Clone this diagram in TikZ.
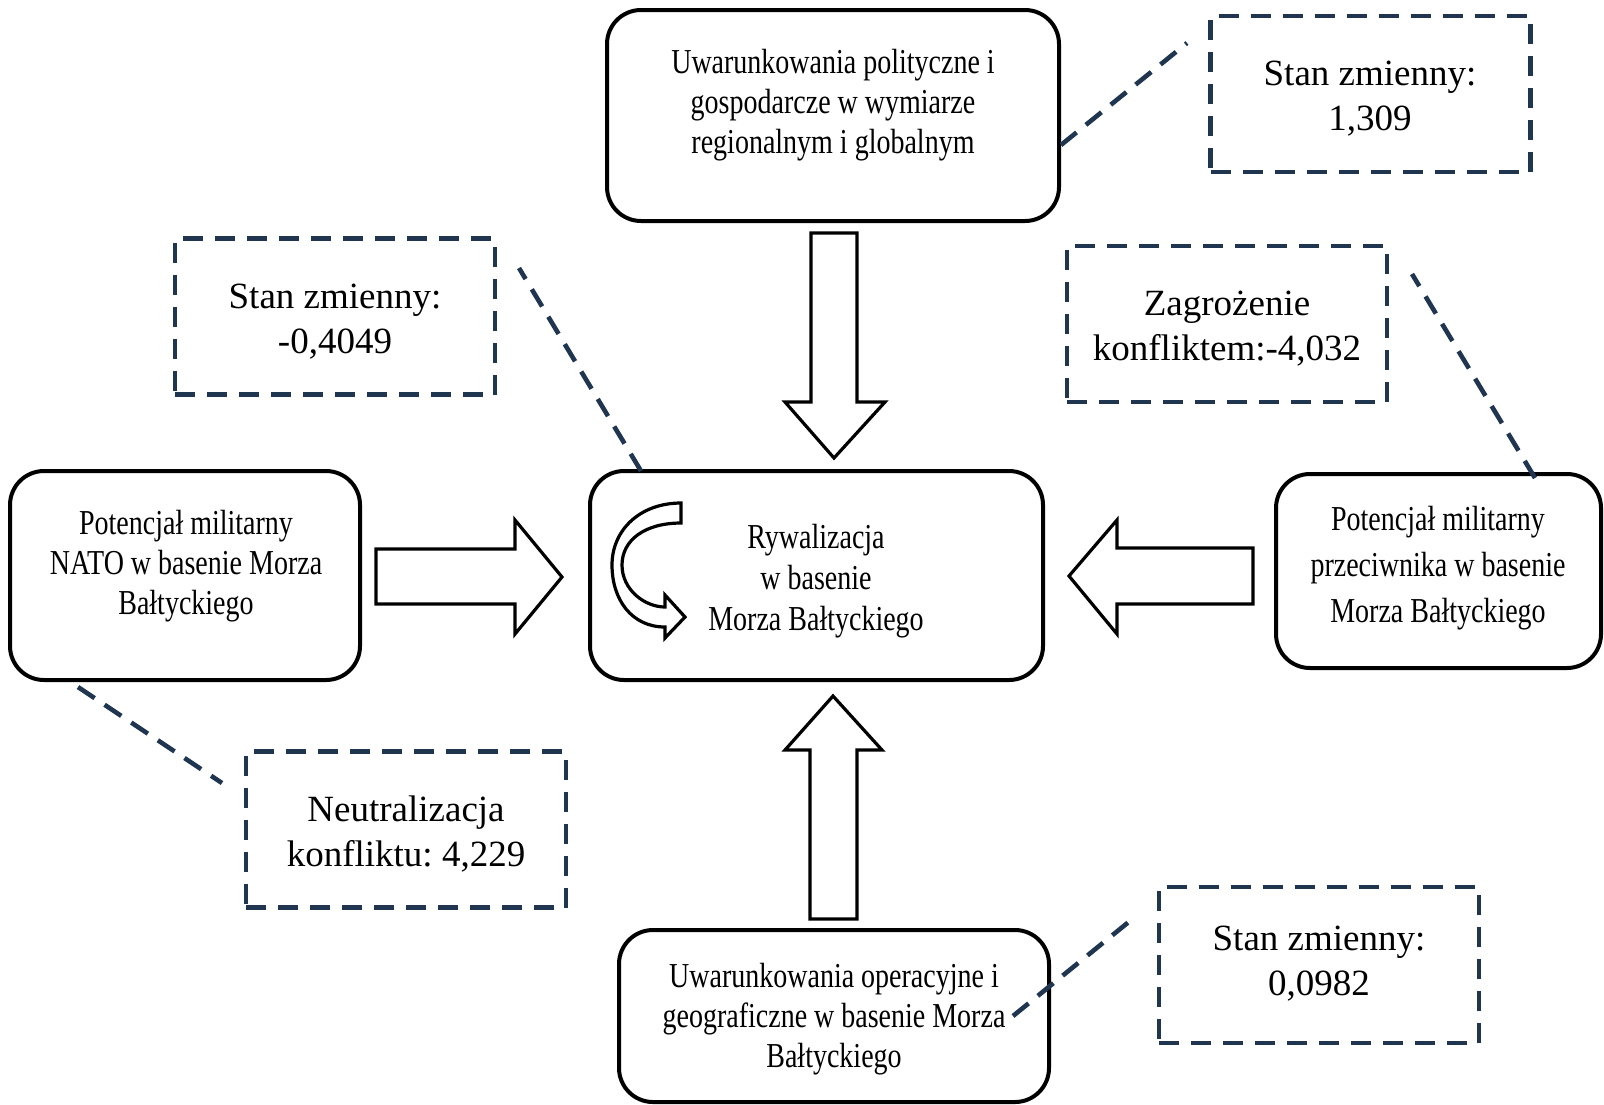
\documentclass[tikz,border=0pt]{standalone}
\usepackage{fontspec}
\setmainfont{Liberation Serif}
\newfontfamily\condfont[FakeStretch=0.8]{Liberation Serif}
\definecolor{dashc}{HTML}{1F3550}
\frenchspacing
\tikzset{
 solidbox/.style={draw=black, line width=2pt, rounded corners=17pt, fill=white, inner sep=0},
 condtxt/.style={align=center, font=\condfont\fontsize{17.5}{20}\selectfont, inner sep=0},
 dbox/.style={draw=dashc, line width=2.3pt, dash pattern=on 10pt off 6pt, minimum width=160pt, minimum height=78pt, inner sep=0},
 dtxt/.style={align=center, font=\fontsize{18.5}{22.5}\selectfont, inner sep=0},
 dline/.style={draw=dashc, line width=2.3pt, dash pattern=on 10pt off 6pt},
 barrow/.style={draw=black, line width=1.6pt, fill=white, line join=miter},
}
\begin{document}
\begin{tikzpicture}[x=0.5pt,y=-0.5pt]
\path[use as bounding box, fill=white] (0,0) rectangle (1604,1104);

% solid boxes
\node[solidbox, minimum width=226pt, minimum height=105.5pt] (top) at (833,115.5) {};
\node[condtxt] (toptxt) at (833,105) {Uwarunkowania polityczne i\\gospodarcze w wymiarze\\regionalnym i globalnym};

\node[solidbox, minimum width=226.5pt, minimum height=104.5pt] (mid) at (816.5,575.5) {};
\node[condtxt, font=\condfont\fontsize{17.5}{20.5}\selectfont] (midtxt) at (816,581) {Rywalizacja\\w basenie\\Morza Bałtyckiego};

\node[solidbox, minimum width=175pt, minimum height=104.5pt] (left) at (185,575.5) {};
\node[condtxt] (lefttxt) at (186,566) {Potencjał militarny\\NATO w basenie Morza\\Bałtyckiego};

\node[solidbox, minimum width=162.5pt, minimum height=97pt] (right) at (1438.5,571) {};
\node[condtxt, font=\condfont\fontsize{17.5}{23}\selectfont] (righttxt) at (1438,568) {Potencjał militarny\\przeciwnika w basenie\\Morza Bałtyckiego};

\node[solidbox, minimum width=215pt, minimum height=86pt] (bot) at (834,1016) {};
\node[condtxt] (bottxt) at (834,1019) {Uwarunkowania operacyjne i\\geograficzne w basenie Morza\\Bałtyckiego};

% dashed boxes
\node[dbox] (d1) at (1370.5,94) {};
\node[dtxt] (d1t) at (1370,99) {Stan zmienny:\\1,309};
\node[dbox] (d2) at (335,316.5) {};
\node[dtxt] (d2t) at (335,322) {Stan zmienny:\\-0,4049};
\node[dbox] (d3) at (1227,324) {};
\node[dtxt] (d3t) at (1227,329) {Zagrożenie\\konfliktem:-4,032};
\node[dbox] (d4) at (406,829.5) {};
\node[dtxt] (d4t) at (406,834) {Neutralizacja\\konfliktu: 4,229};
\node[dbox] (d5) at (1319,965) {};
\node[dtxt] (d5t) at (1319,964) {Stan zmienny:\\0,0982};

% dashed connectors
\coordinate (e1a) at (1061,145); \coordinate (e1b) at (1187,43);
\coordinate (e2a) at (641,471); \coordinate (e2b) at (519,268);
\coordinate (e3a) at (1535,478); \coordinate (e3b) at (1412,274);
\coordinate (e4a) at (78,687); \coordinate (e4b) at (222,783);
\coordinate (e5a) at (1013,1016); \coordinate (e5b) at (1136,916);
\draw[dline] (e1a) -- (e1b);
\draw[dline] (e2a) -- (e2b);
\draw[dline] (e3a) -- (e3b);
\draw[dline] (e4a) -- (e4b);
\draw[dline] (e5a) -- (e5b);

% block arrows
\draw[barrow] (811,233) -- (857,233) -- (857,402) -- (885,402) -- (834,458) -- (785,402) -- (811,402) -- cycle;
\draw[barrow] (810,919) -- (857,919) -- (857,750) -- (882,750) -- (833,696) -- (785,750) -- (810,750) -- cycle;
\draw[barrow] (376,549) -- (515,549) -- (515,520) -- (562,577) -- (515,634) -- (515,604) -- (376,604) -- cycle;
\draw[barrow] (1253,548) -- (1117,548) -- (1117,520) -- (1069,576) -- (1117,634) -- (1117,604) -- (1253,604) -- cycle;

% curved arrow in centre box
\draw[barrow] (681,503) -- (681,523) .. controls (645,523) and (622,540) .. (622,565)
  .. controls (622,590) and (645,607) .. (665,607) -- (665,595) -- (685,617) -- (665,638) -- (665,627)
  .. controls (632,627) and (612,600) .. (612,565) .. controls (612,530) and (640,503) .. (681,503) -- cycle;
\end{tikzpicture}
\end{document}
